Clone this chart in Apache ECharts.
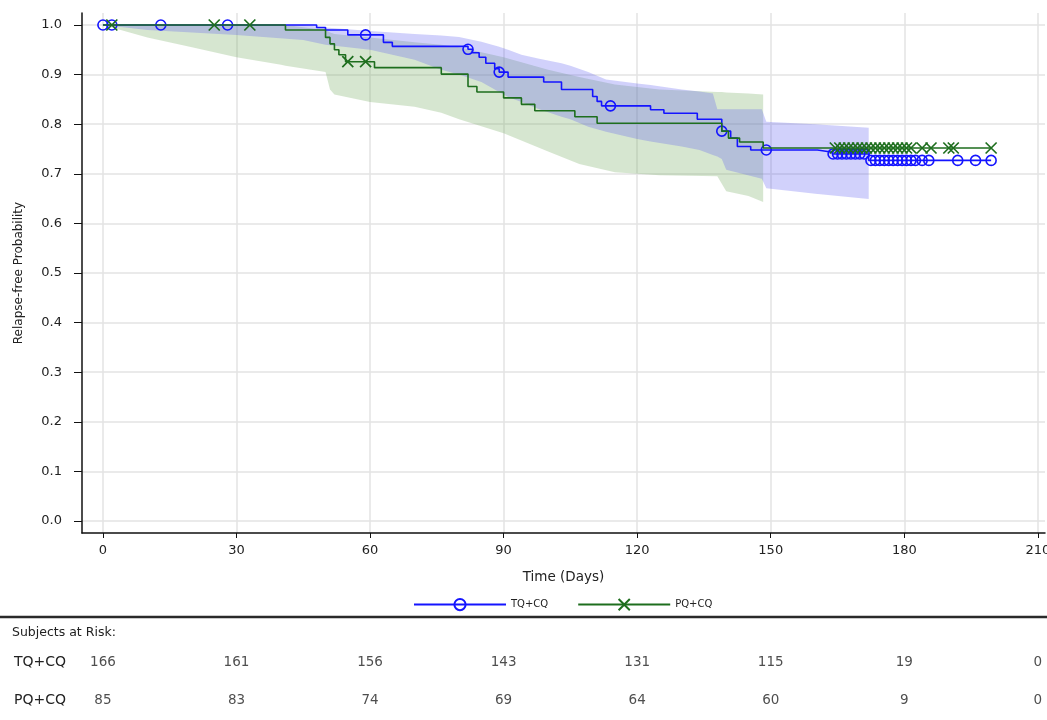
<!DOCTYPE html>
<html>
<head>
<meta charset="utf-8">
<script src="https://cdn.jsdelivr.net/npm/echarts@6/dist/echarts.min.js"></script>
<style>
  html, body { margin: 0; padding: 0; background: #fff; }
  #km { width: 1047px; height: 720px; }
</style>
</head>
<body>
<div id="km"></div>
<script>
// tick labels
var xTicks = [0, 30, 60, 90, 120, 150, 180, 210];
var yTicks = [0, 0.1, 0.2, 0.3, 0.4, 0.5, 0.6, 0.7, 0.8, 0.9, 1.0];

// TQ+CQ step curve (day, relapse-free prob after the drop)
var tqTimes = [0, 48, 50, 55, 63, 65, 82, 83, 84.5, 86, 88, 89, 91, 99, 103, 110, 111, 112, 123, 126, 133.5, 139, 141, 142.5, 145.5, 160.5, 163.5, 172];
var tqSurv  = [1.0, 0.995, 0.99, 0.98, 0.965, 0.957, 0.951, 0.944, 0.935, 0.923, 0.912, 0.905, 0.895, 0.885, 0.87, 0.856, 0.846, 0.837, 0.829, 0.822, 0.81, 0.786, 0.772, 0.755, 0.748, 0.744, 0.74, 0.727];
var tqCensor = [0, 2, 13, 28, 59, 82, 89, 114, 139, 149, 164, 165, 166, 167, 168, 169, 170, 171, 172.5, 173.5, 174.5, 175.5, 176.5, 177.5, 178.5, 179.5, 180.5, 181.5, 182.5, 184, 185.5, 192, 196, 199.5];

// PQ+CQ step curve
var pqTimes = [0, 41, 50, 51, 52, 53, 54.5, 61, 76, 82, 84, 90, 94, 97, 106, 111, 139, 140.5, 143, 148.3];
var pqSurv  = [1.0, 0.99, 0.975, 0.962, 0.95, 0.94, 0.926, 0.914, 0.901, 0.876, 0.865, 0.853, 0.84, 0.827, 0.815, 0.802, 0.786, 0.772, 0.764, 0.752];
var pqCensor = [2, 25, 33, 55, 59, 164.5, 165.5, 166.5, 167.5, 168.5, 169.5, 170.5, 171.5, 172.5, 173.5, 174.5, 175.5, 176.5, 177.5, 178.5, 179.5, 180.5, 181.5, 184, 186, 190, 191, 199.5];

// confidence bands
var tqBandT  = [0, 10, 30, 45, 50, 60, 70, 76, 80, 85, 89, 91, 94, 98, 103, 105, 109, 113, 120, 123, 130, 134, 137, 138, 139, 140, 148, 149, 160, 172];
var tqBandHi = [1, 1, 1, 1, 0.995, 0.988, 0.982, 0.979, 0.976, 0.966, 0.956, 0.95, 0.94, 0.932, 0.923, 0.918, 0.905, 0.89, 0.882, 0.879, 0.87, 0.866, 0.862, 0.83, 0.83, 0.83, 0.83, 0.805, 0.8, 0.793];
var tqBandLo = [1, 0.99, 0.98, 0.97, 0.96, 0.95, 0.93, 0.91, 0.9, 0.885, 0.865, 0.855, 0.845, 0.83, 0.815, 0.81, 0.795, 0.785, 0.77, 0.765, 0.755, 0.748, 0.738, 0.735, 0.73, 0.708, 0.69, 0.671, 0.66, 0.649];

var pqBandT  = [0, 10, 20, 30, 40, 41, 50, 51, 52, 60, 70, 76, 80, 90, 100, 107, 115, 125, 138, 139, 140, 145, 148.3];
var pqBandHi = [1, 1, 1, 1, 1, 1, 0.99, 0.985, 0.982, 0.975, 0.965, 0.96, 0.955, 0.935, 0.91, 0.895, 0.88, 0.87, 0.865, 0.865, 0.864, 0.862, 0.86];
var pqBandLo = [1, 0.975, 0.955, 0.935, 0.92, 0.918, 0.905, 0.87, 0.86, 0.845, 0.835, 0.823, 0.81, 0.782, 0.745, 0.72, 0.703, 0.697, 0.695, 0.68, 0.665, 0.655, 0.643];

// subjects at risk
var riskRows = ['TQ+CQ', 'PQ+CQ'];
var tqRisk = [166, 161, 156, 143, 131, 115, 19, 0];
var pqRisk = [85, 83, 74, 69, 64, 60, 9, 0];

var BLUE = '#1414ff';
var GREEN = '#1e6e1e';
var FONT = "'DejaVu Sans', Verdana, sans-serif";
var xSym = 'path://M0,0L10,10M10,0L0,10';

function survAt(times, surv, t) {
  var v = surv[0];
  for (var i = 0; i < times.length; i++) { if (times[i] <= t) v = surv[i]; }
  return v;
}

function kmData(times, surv, censor, sym) {
  var items = [];
  times.forEach(function (t, i) { items.push({ value: [t, surv[i]], symbol: 'none' }); });
  censor.forEach(function (t) { items.push({ value: [t, survAt(times, surv, t)], symbol: sym }); });
  items.sort(function (a, b) { return a.value[0] - b.value[0]; });
  return items;
}

function band(t, lo, hi, fill) {
  return {
    type: 'custom', silent: true, z: 1,
    data: [[t[0], hi[0]]],
    renderItem: function (params, api) {
      var pts = [];
      for (var i = 0; i < t.length; i++) pts.push(api.coord([t[i], hi[i]]));
      for (var j = t.length - 1; j >= 0; j--) pts.push(api.coord([t[j], lo[j]]));
      return { type: 'polygon', shape: { points: pts }, style: { fill: fill } };
    }
  };
}

function riskData(row, vals) {
  return xTicks.map(function (t, i) { return [t, row, vals[i]]; });
}

var chart = echarts.init(document.getElementById('km'));
var option = {
  animation: false,
  grid: [
    { left: 82, right: 2, top: 13, bottom: 187, outerBoundsMode: 'none' },
    { left: 82, right: 2, top: 643, height: 76, outerBoundsMode: 'none' }
  ],
  legend: {
    data: ['TQ+CQ', 'PQ+CQ'],
    top: 593, left: 408,
    itemWidth: 92, itemHeight: 14, itemGap: 29,
    textStyle: { fontFamily: FONT, fontSize: 10, color: '#222' }
  },
  graphic: [
    { type: 'line', shape: { x1: 0, y1: 617, x2: 1047, y2: 617 }, style: { stroke: '#2a2a2a', lineWidth: 2.5 } },
    { type: 'text', left: 12, top: 626, style: { text: 'Subjects at Risk:', font: '12.5px ' + FONT, fill: '#222' } }
  ],
  xAxis: [
    {
      type: 'value', gridIndex: 0, min: -4.7, max: 211.6,
      name: 'Time (Days)', nameLocation: 'middle', nameGap: 37,
      nameTextStyle: { fontFamily: FONT, fontSize: 13.5, color: '#222' },
      axisLine: { onZero: false, lineStyle: { color: '#111', width: 1.5 } },
      axisTick: { customValues: xTicks, length: 5, lineStyle: { color: '#111' } },
      axisLabel: { customValues: xTicks, margin: 11, fontFamily: FONT, fontSize: 13, color: '#222' },
      splitLine: { show: true, lineStyle: { color: '#e3e3e3', width: 1.5 } }
    },
    { type: 'value', gridIndex: 1, min: -4.7, max: 211.6, show: false }
  ],
  yAxis: [
    {
      type: 'value', gridIndex: 0, min: -0.0242, max: 1.0242,
      name: 'Relapse-free Probability', nameLocation: 'middle', nameGap: 57,
      nameTextStyle: { fontFamily: FONT, fontSize: 12, color: '#222' },
      axisLine: { show: true, onZero: false, lineStyle: { color: '#111', width: 1.5 } },
      axisTick: { show: true, customValues: yTicks, length: 8, lineStyle: { color: '#111' } },
      axisLabel: { customValues: yTicks, margin: 20, fontFamily: FONT, fontSize: 13, color: '#222',
        formatter: function (v) { return v.toFixed(1); } },
      splitLine: { show: true, lineStyle: { color: '#e3e3e3', width: 1.5 } }
    },
    {
      type: 'category', gridIndex: 1, data: riskRows, inverse: true,
      axisLine: { show: false }, axisTick: { show: false }, splitLine: { show: false },
      axisLabel: { align: 'left', margin: 68, fontFamily: FONT, fontSize: 14, color: '#222' }
    }
  ],
  series: [
    band(pqBandT, pqBandLo, pqBandHi, 'rgba(118,172,98,0.3)'),
    band(tqBandT, tqBandLo, tqBandHi, 'rgba(90,90,240,0.28)'),
    {
      name: 'TQ+CQ', type: 'line', step: 'end', z: 3,
      data: kmData(tqTimes, tqSurv, tqCensor, 'circle'),
      symbol: 'circle', symbolSize: 10, showSymbol: true, showAllSymbol: true,
      lineStyle: { color: BLUE, width: 1.6 },
      itemStyle: { color: 'rgba(0,0,0,0)', borderColor: BLUE, borderWidth: 1.6 }
    },
    {
      name: 'PQ+CQ', type: 'line', step: 'end', z: 4,
      data: kmData(pqTimes, pqSurv, pqCensor, xSym),
      symbol: xSym, symbolSize: 11, showSymbol: true, showAllSymbol: true,
      lineStyle: { color: GREEN, width: 1.6 },
      itemStyle: { color: 'rgba(0,0,0,0)', borderColor: GREEN, borderWidth: 1.7 }
    },
    {
      type: 'scatter', xAxisIndex: 1, yAxisIndex: 1, symbolSize: 1, silent: true,
      itemStyle: { color: 'rgba(0,0,0,0)' },
      label: { show: true, position: 'inside', fontFamily: FONT, fontSize: 13.5, color: '#222',
        formatter: function (p) { return String(p.value[2]); } },
      data: riskData('TQ+CQ', tqRisk).concat(riskData('PQ+CQ', pqRisk))
    }
  ]
};
chart.setOption(option);
</script>
</body>
</html>
